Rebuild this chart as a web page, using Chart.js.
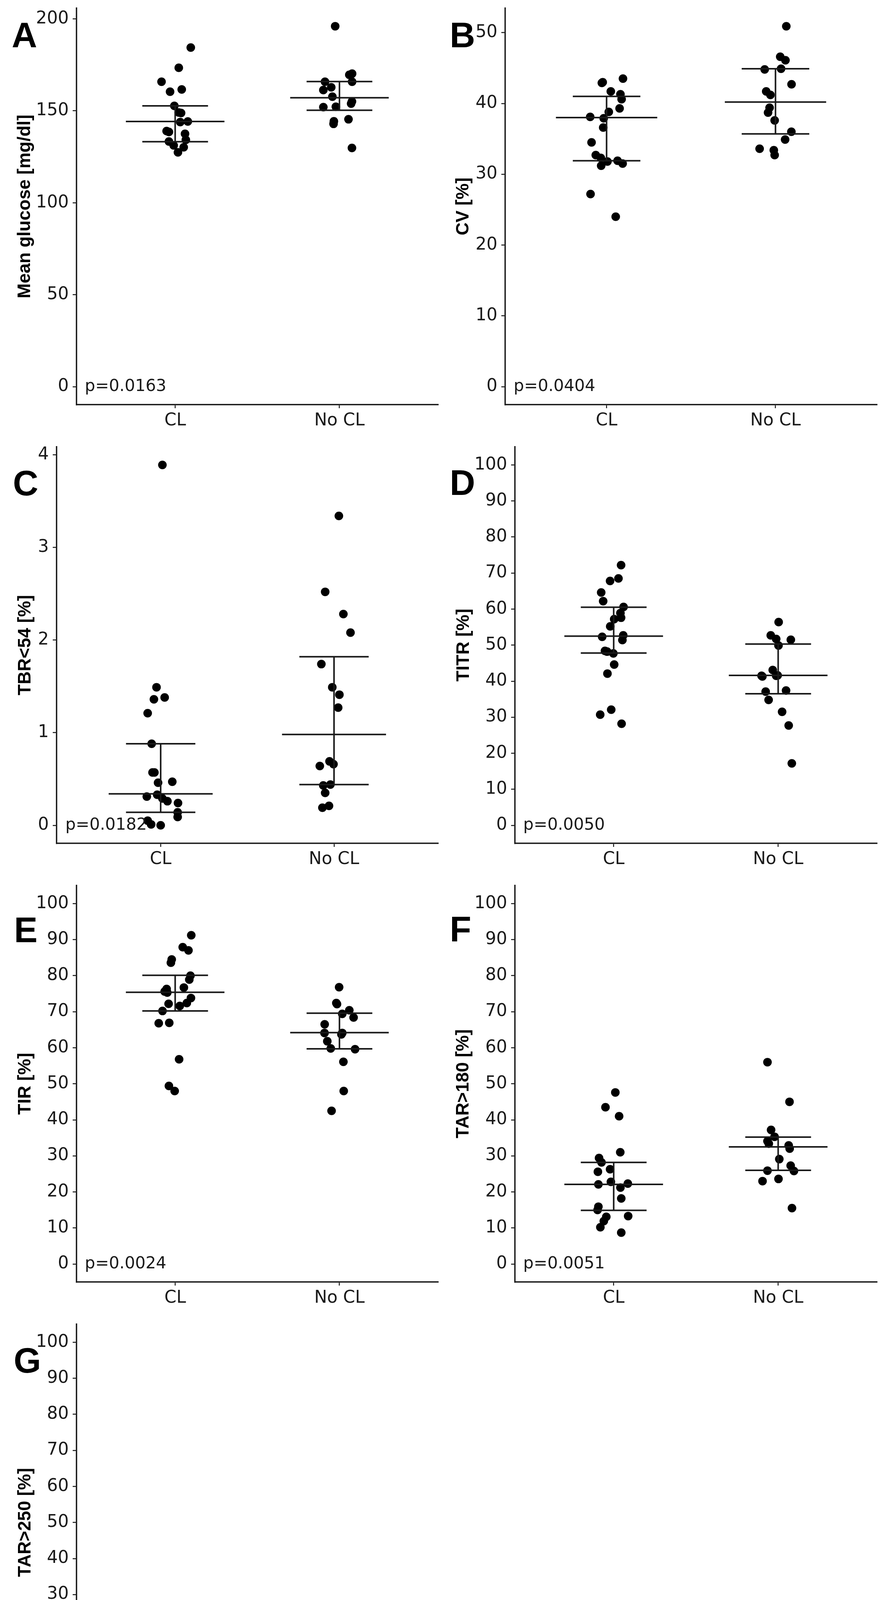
<!DOCTYPE html>
<html>
<head>
<meta charset="utf-8">
<script src="https://cdn.jsdelivr.net/npm/chart.js@4.4.1/dist/chart.umd.min.js"></script>
<style>
  html, body { margin: 0; padding: 0; background: #fff; }
  #figure { position: relative; width: 2270px; height: 4476px; }
  .panel { position: absolute; width: 1135px; height: 1107px; }
</style>
</head>
<body>
<div id="figure"></div>
<script>
const groups = ["CL", "No CL"];
const glucoseTicks = [0, 50, 100, 150, 200];
const cvTicks = [0, 10, 20, 30, 40, 50];
const tbrTicks = [0, 1, 2, 3, 4];
const percentTicks = [0, 10, 20, 30, 40, 50, 60, 70, 80, 90, 100];

// A - mean glucose
const glucoseCL = [184.4, 173.4, 165.8, 161.6, 160.4, 152.7, 149.1, 148.8, 144.2, 143.9, 139.0, 138.5, 137.5, 134.2, 133.3, 131.2, 130.2, 127.4];
const glucoseCLJitter = [0.095, 0.022, -0.083, 0.040, -0.031, -0.005, 0.022, 0.036, 0.077, 0.031, -0.052, -0.038, 0.060, 0.065, -0.038, -0.009, 0.052, 0.017];
const glucoseNoCL = [196.0, 170.2, 169.6, 165.8, 165.8, 162.8, 161.3, 157.7, 155.1, 153.9, 152.2, 152.0, 145.4, 144.3, 142.9, 129.8];
const glucoseNoCLJitter = [-0.026, 0.077, 0.060, -0.088, 0.077, -0.050, -0.098, -0.043, 0.076, 0.071, -0.022, -0.098, 0.055, -0.034, -0.036, 0.076];
const glucoseMedian = [144.2, 157.1];
const glucoseLower = [133.2, 150.3];
const glucoseUpper = [152.7, 165.9];

// B - CV
const cvCL = [43.5, 43.0, 42.9, 41.7, 41.3, 40.6, 39.3, 38.8, 38.1, 37.9, 36.6, 34.5, 32.7, 32.3, 31.9, 31.8, 31.5, 31.2, 27.2, 24.0];
const cvCLJitter = [0.097, -0.023, -0.028, 0.025, 0.082, 0.089, 0.077, 0.013, -0.097, -0.017, -0.020, -0.089, -0.064, -0.034, 0.065, 0.005, 0.095, -0.032, -0.095, 0.054];
const cvNoCL = [50.9, 46.6, 46.1, 44.9, 44.8, 42.7, 41.7, 41.2, 39.4, 38.7, 37.6, 36.0, 34.9, 33.6, 33.4, 32.7];
const cvNoCLJitter = [0.064, 0.028, 0.059, 0.033, -0.064, 0.095, -0.055, -0.030, -0.035, -0.044, -0.005, 0.094, 0.057, -0.094, -0.010, -0.005];
const cvMedian = [38.0, 40.2];
const cvLower = [31.9, 35.7];
const cvUpper = [41.0, 44.9];

// C - TBR<54
const tbrCL = [3.89, 1.49, 1.38, 1.36, 1.21, 0.88, 0.57, 0.57, 0.47, 0.46, 0.33, 0.31, 0.29, 0.26, 0.24, 0.14, 0.09, 0.05, 0.01, 0.00];
const tbrCLJitter = [0.010, -0.024, 0.023, -0.039, -0.075, -0.052, -0.047, -0.036, 0.067, -0.015, -0.020, -0.080, 0.010, 0.039, 0.100, 0.098, 0.098, -0.075, -0.055, 0.000];
const tbrNoCL = [3.34, 2.52, 2.28, 2.08, 1.74, 1.49, 1.41, 1.27, 0.69, 0.66, 0.64, 0.44, 0.43, 0.35, 0.21, 0.19];
const tbrNoCLJitter = [0.028, -0.051, 0.054, 0.095, -0.073, -0.010, 0.031, 0.024, -0.026, -0.003, -0.082, -0.021, -0.062, -0.051, -0.029, -0.067];
const tbrMedian = [0.34, 0.98];
const tbrLower = [0.14, 0.44];
const tbrUpper = [0.88, 1.82];

// D - TITR
const titrCL = [72.2, 68.5, 67.8, 64.6, 62.2, 60.6, 58.9, 57.6, 57.2, 55.2, 52.7, 52.3, 51.4, 48.4, 48.2, 47.7, 44.6, 42.1, 32.1, 30.7, 28.2];
const titrCLJitter = [0.045, 0.029, -0.022, -0.076, -0.064, 0.060, 0.041, 0.045, 0.003, -0.021, 0.058, -0.070, 0.053, -0.053, -0.040, -0.002, 0.003, -0.038, -0.015, -0.082, 0.048];
const titrNoCL = [56.4, 52.7, 51.7, 51.5, 49.9, 43.1, 41.6, 41.5, 41.5, 41.3, 37.4, 37.1, 34.8, 31.5, 27.7, 17.2];
const titrNoCLJitter = [0.003, -0.045, -0.012, 0.077, 0.002, -0.033, -0.003, -0.012, -0.101, -0.096, 0.048, -0.076, -0.058, 0.024, 0.064, 0.083];
const titrMedian = [52.5, 41.6];
const titrLower = [47.8, 36.5];
const titrUpper = [60.5, 50.3];

// E - TIR
const tirCL = [91.2, 87.9, 87.0, 84.5, 83.6, 80.0, 78.9, 76.7, 76.3, 75.6, 75.3, 73.8, 72.4, 72.2, 71.6, 70.2, 66.9, 66.8, 56.8, 49.4, 48.0];
const tirCLJitter = [0.098, 0.046, 0.081, -0.021, -0.026, 0.093, 0.086, 0.053, -0.052, -0.064, -0.048, 0.096, 0.071, -0.040, 0.028, -0.077, -0.036, -0.100, 0.024, -0.038, -0.003];
const tirNoCL = [76.8, 72.4, 72.1, 70.4, 69.4, 68.4, 66.5, 64.1, 64.1, 63.7, 61.8, 59.8, 59.6, 56.1, 48.0, 42.5];
const tirNoCLJitter = [-0.002, -0.019, -0.015, 0.060, 0.017, 0.086, -0.090, -0.091, 0.017, 0.012, -0.074, -0.053, 0.095, 0.024, 0.026, -0.048];
const tirMedian = [75.4, 64.2];
const tirLower = [70.2, 59.7];
const tirUpper = [80.1, 69.6];

// F - TAR>180
const tar180CL = [47.6, 43.5, 41.0, 31.0, 29.4, 28.2, 26.3, 25.6, 22.8, 22.3, 22.1, 21.2, 18.2, 15.9, 15.0, 13.3, 13.1, 11.9, 10.2, 8.7];
const tar180CLJitter = [0.010, -0.050, 0.033, 0.040, -0.089, -0.074, -0.022, -0.096, -0.017, 0.086, -0.093, 0.041, 0.046, -0.093, -0.098, 0.088, -0.045, -0.060, -0.081, 0.046];
const tar180NoCL = [56.0, 45.0, 37.2, 35.3, 34.1, 33.4, 32.9, 32.0, 29.1, 27.3, 25.9, 25.8, 23.6, 23.0, 15.5];
const tar180NoCLJitter = [-0.065, 0.069, -0.043, -0.022, -0.065, -0.057, 0.064, 0.070, 0.007, 0.076, -0.065, 0.096, 0.002, -0.095, 0.084];
const tar180Median = [22.1, 32.5];
const tar180Lower = [14.9, 26.0];
const tar180Upper = [28.2, 35.2];

// G - TAR>250
const tar250CL = [20.6, 16.5, 12.1, 7.8, 7.0, 6.4, 6.3, 5.7, 5.1, 4.2, 3.2, 3.0, 2.6, 2.3, 1.5, 1.2, 0.9, 0.0];
const tar250CLJitter = [0.075, -0.002, 0.061, -0.036, 0.071, -0.068, 0.029, -0.058, -0.034, -0.024, 0.097, -0.080, -0.085, 0.081, -0.068, -0.051, 0.087, 0.063];
const tar250NoCL = [18.8, 16.2, 15.4, 12.4, 11.9, 10.9, 10.9, 8.7, 6.6, 6.6, 6.1, 5.3, 4.9, 4.3, 2.0];
const tar250NoCLJitter = [0.072, 0.021, 0.043, 0.003, 0.072, -0.019, 0.038, 0.033, -0.017, 0.055, -0.091, -0.077, 0.076, -0.005, 0.012];
const tar250Median = [5.5, 9.7];
const tar250Lower = [2.7, 5.9];
const tar250Upper = [6.2, 12.0];

const panels = [
  { letter: "A", title: "Mean glucose [mg/dl]", p: "p=0.0163", cl: glucoseCL, clJit: glucoseCLJitter, nocl: glucoseNoCL, noclJit: glucoseNoCLJitter,
    median: glucoseMedian, lower: glucoseLower, upper: glucoseUpper, yMin: -9.8, yMax: 205.8, ticks: glucoseTicks,
    col: 0, row: 0, axisLeft: 196, titleX: 64, letterX: 30, letterY: 121 },
  { letter: "B", title: "CV [%]", p: "p=0.0404", cl: cvCL, clJit: cvCLJitter, nocl: cvNoCL, noclJit: cvNoCLJitter,
    median: cvMedian, lower: cvLower, upper: cvUpper, yMin: -2.55, yMax: 53.45, ticks: cvTicks,
    col: 1, row: 0, axisLeft: 158, titleX: 51, letterX: 16, letterY: 121 },
  { letter: "C", title: "TBR<54 [%]", p: "p=0.0182", cl: tbrCL, clJit: tbrCLJitter, nocl: tbrNoCL, noclJit: tbrNoCLJitter,
    median: tbrMedian, lower: tbrLower, upper: tbrUpper, yMin: -0.195, yMax: 4.085, ticks: tbrTicks,
    col: 0, row: 1, axisLeft: 145, titleX: 65, letterX: 33, letterY: 145 },
  { letter: "D", title: "TITR [%]", p: "p=0.0050", cl: titrCL, clJit: titrCLJitter, nocl: titrNoCL, noclJit: titrNoCLJitter,
    median: titrMedian, lower: titrLower, upper: titrUpper, yMin: -5, yMax: 105, ticks: percentTicks,
    col: 1, row: 1, axisLeft: 183, titleX: 52, letterX: 16, letterY: 144 },
  { letter: "E", title: "TIR [%]", p: "p=0.0024", cl: tirCL, clJit: tirCLJitter, nocl: tirNoCL, noclJit: tirNoCLJitter,
    median: tirMedian, lower: tirLower, upper: tirUpper, yMin: -5, yMax: 105, ticks: percentTicks,
    col: 0, row: 2, axisLeft: 196, titleX: 65, letterX: 36, letterY: 166 },
  { letter: "F", title: "TAR>180 [%]", p: "p=0.0051", cl: tar180CL, clJit: tar180CLJitter, nocl: tar180NoCL, noclJit: tar180NoCLJitter,
    median: tar180Median, lower: tar180Lower, upper: tar180Upper, yMin: -5, yMax: 105, ticks: percentTicks,
    col: 1, row: 2, axisLeft: 183, titleX: 51, letterX: 16, letterY: 164 },
  { letter: "G", title: "TAR>250 [%]", p: "p=0.0148", cl: tar250CL, clJit: tar250CLJitter, nocl: tar250NoCL, noclJit: tar250NoCLJitter,
    median: tar250Median, lower: tar250Lower, upper: tar250Upper, yMin: -5, yMax: 105, ticks: percentTicks,
    col: 0, row: 3, axisLeft: 196, titleX: 65, letterX: 35, letterY: 145 },
];

const tickFont = "'DejaVu Sans', 'Liberation Sans', Arial, sans-serif";
Chart.defaults.font.family = "'Liberation Sans', Arial, Helvetica, sans-serif";
Chart.defaults.color = "#1a1a1a";

const ink = "#1a1a1a";
const titleSize = 46;

// p-value and panel letter
const annotations = {
  id: "annotations",
  afterDraw(chart, args, opts) {
    const ctx = chart.ctx;
    const x = chart.scales.x;
    const y = chart.scales.y;
    ctx.save();
    ctx.fillStyle = ink;
    ctx.font = "42px " + tickFont;
    ctx.textAlign = "left";
    ctx.textBaseline = "middle";
    ctx.fillText(opts.p, x.getPixelForValue(0.45), y.getPixelForValue(0));
    ctx.fillStyle = "#000";
    ctx.font = "bold 90px 'Liberation Sans', Arial, sans-serif";
    ctx.textBaseline = "alphabetic";
    ctx.fillText(opts.letter, opts.letterX, opts.letterY);
    ctx.restore();
  },
};

function segment(x1, y1, x2, y2) {
  return {
    data: [{ x: x1, y: y1 }, { x: x2, y: y2 }],
    showLine: true,
    pointRadius: 0,
    borderColor: ink,
    borderWidth: 4,
    order: 0,
  };
}

function makePanel(cfg) {
  const div = document.createElement("div");
  div.className = "panel";
  div.style.left = cfg.col * 1135 + "px";
  div.style.top = cfg.row * 1123 + "px";
  const canvas = document.createElement("canvas");
  div.appendChild(canvas);
  document.getElementById("figure").appendChild(div);

  const padLeft = cfg.titleX - (titleSize * 1.2) / 2;
  const padRight = cfg.col === 0 ? 14 : 26;

  const datasets = [
    {
      data: cfg.cl.map((v, i) => ({ x: 1 + cfg.clJit[i], y: v })),
      pointRadius: 11, backgroundColor: "#000", borderWidth: 0, order: 1,
    },
    {
      data: cfg.nocl.map((v, i) => ({ x: 2 + cfg.noclJit[i], y: v })),
      pointRadius: 11, backgroundColor: "#000", borderWidth: 0, order: 1,
    },
  ];
  for (let g = 0; g < groups.length; g++) {
    const c = g + 1;
    datasets.push(segment(c - 0.3, cfg.median[g], c + 0.3, cfg.median[g]));
    datasets.push(segment(c - 0.2, cfg.upper[g], c + 0.2, cfg.upper[g]));
    datasets.push(segment(c - 0.2, cfg.lower[g], c + 0.2, cfg.lower[g]));
    datasets.push(segment(c, cfg.lower[g], c, cfg.upper[g]));
  }

  new Chart(canvas, {
    type: "scatter",
    data: { datasets: datasets },
    plugins: [annotations],
    options: {
      responsive: true,
      maintainAspectRatio: false,
      devicePixelRatio: 1,
      animation: false,
      layout: { padding: { top: 21, left: padLeft, right: padRight, bottom: 0 } },
      plugins: {
        legend: { display: false },
        tooltip: { enabled: false },
        annotations: { p: cfg.p, letter: cfg.letter, letterX: cfg.letterX, letterY: cfg.letterY },
      },
      scales: {
        x: {
          type: "linear",
          min: 0.4,
          max: 2.6,
          afterBuildTicks: (scale) => { scale.ticks = [{ value: 1 }, { value: 2 }]; },
          afterFit: (scale) => {
            scale.height = 1107 - 1036;
            scale.paddingLeft = 0;
            scale.paddingRight = 0;
          },
          ticks: {
            callback: (v) => groups[v - 1],
            font: { size: 44, family: tickFont },
            color: ink,
            padding: 6,
            maxRotation: 0,
          },
          grid: { drawOnChartArea: false, drawTicks: true, tickLength: 9, color: ink, lineWidth: 2.5 },
          border: { display: true, color: ink, width: 3.5 },
        },
        y: {
          min: cfg.yMin,
          max: cfg.yMax,
          afterBuildTicks: (scale) => { scale.ticks = cfg.ticks.map((v) => ({ value: v })); },
          afterFit: (scale) => {
            scale.width = cfg.axisLeft - padLeft;
            scale.paddingTop = 0;
            scale.paddingBottom = 0;
          },
          ticks: { font: { size: 44, family: tickFont }, color: ink, padding: 10 },
          grid: { drawOnChartArea: false, drawTicks: true, tickLength: 10, color: ink, lineWidth: 2.5 },
          border: { display: true, color: ink, width: 3.5 },
          title: {
            display: true,
            text: cfg.title,
            font: { size: titleSize, weight: "bold" },
            color: "#000",
            padding: { top: 0, bottom: 0 },
          },
        },
      },
    },
  });
}

panels.forEach(makePanel);
</script>
</body>
</html>
